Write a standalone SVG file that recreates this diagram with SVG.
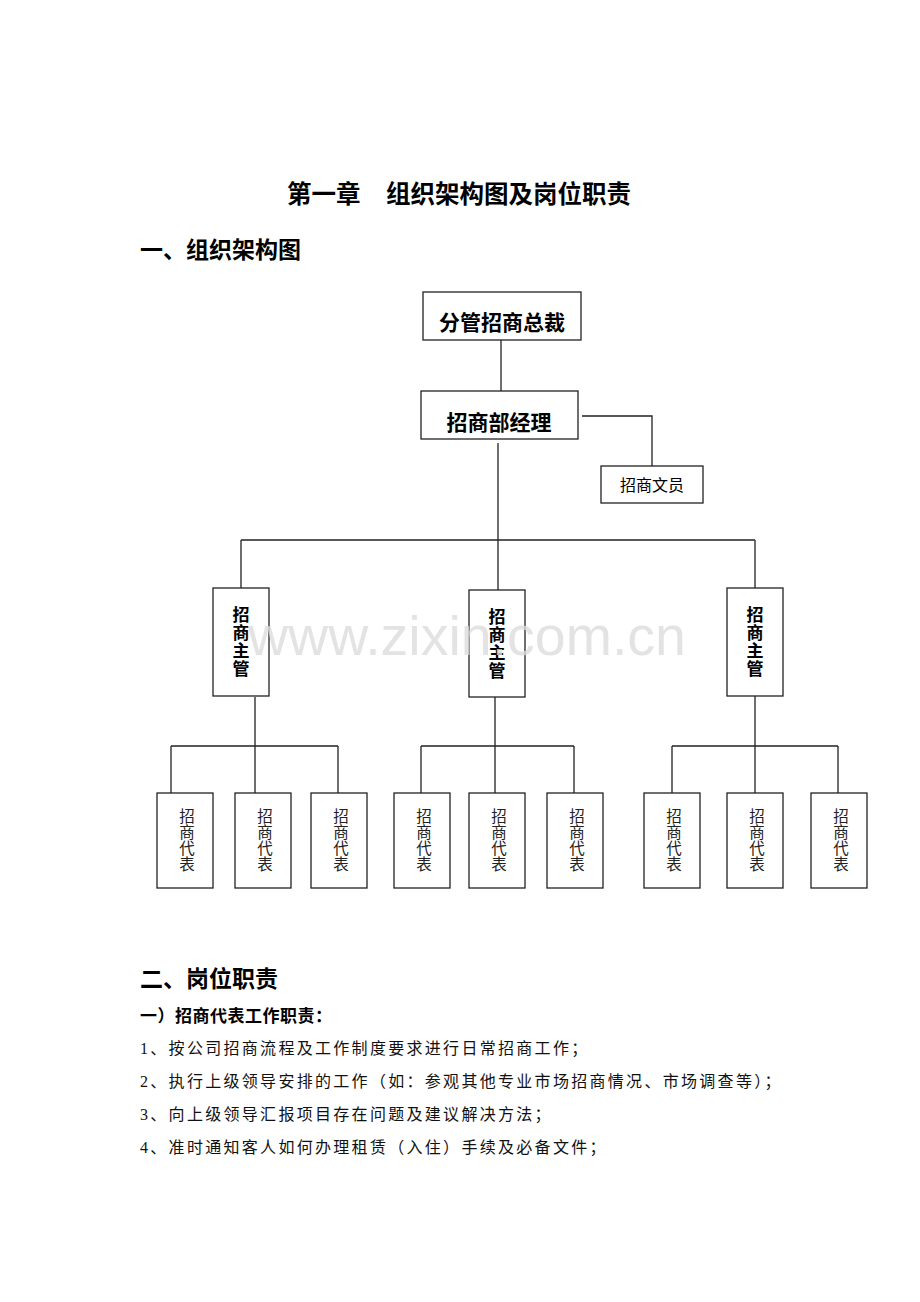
<svg xmlns="http://www.w3.org/2000/svg" width="920" height="1302" viewBox="0 0 920 1302">
<style>
.bx{fill:#fff;stroke:#222;stroke-width:1.3}
.ln{fill:none;stroke:#222;stroke-width:1.3}
.h{font-family:"Liberation Sans","Noto Sans CJK SC",sans-serif;font-weight:bold;fill:#000}
.b{font-family:"Liberation Serif","Noto Sans CJK SC",serif;font-size:16px;letter-spacing:2.3px;fill:#111}
.nt{font-family:"Liberation Sans","Noto Sans CJK SC",sans-serif;fill:#000;text-anchor:middle}
.vt{font-size:17px;font-weight:bold}
.rt{font-size:15.5px;fill:#222}
.wm{font-family:"Liberation Sans",Arial,sans-serif;font-size:55.5px;fill:#dcdcdc;fill-opacity:0.8}
</style>
<rect width="920" height="1302" fill="#fff"/>
<text class="h" x="287" y="203" font-size="24.5">第一章<tspan x="386">组织架构图及岗位职责</tspan></text>
<text class="h" x="140" y="258" font-size="23">一、组织架构图</text>

<g id="connectors">
<path class="ln" d="M501,340V391"/>
<path class="ln" d="M582,416H652V466"/>
<path class="ln" d="M498,443V540M241,540H755M241,540V588M498,540V590M755,540V588"/>
<path class="ln" d="M255,697V746M171,746H338M171,746V793M255,746V793M338,746V793"/>
<path class="ln" d="M495,697V746M421,746H574M421,746V793M495,746V793M574,746V793"/>
<path class="ln" d="M755,696V746M672,746H838M672,746V793M755,746V793M838,746V793"/>
</g>

<g id="n-president"><rect class="bx" x="423" y="292" width="158" height="48"/><text class="nt" x="502" y="330" font-size="21" font-weight="600">分管招商总裁</text></g>
<g id="n-manager"><rect class="bx" x="421" y="391" width="157" height="48"/><text class="nt" x="499" y="430" font-size="21" font-weight="600">招商部经理</text></g>
<g id="n-clerk"><rect class="bx" x="601" y="466" width="102" height="37"/><text class="nt" x="652" y="491" font-size="16">招商文员</text></g>

<g id="n-sup1"><rect class="bx" x="213" y="588" width="56" height="108"/><text class="nt vt" x="241" y="621">招<tspan x="241" dy="18">商</tspan><tspan x="241" dy="18">主</tspan><tspan x="241" dy="18">管</tspan></text></g>
<g id="n-sup2"><rect class="bx" x="469" y="590" width="56" height="107"/><text class="nt vt" x="497" y="623">招<tspan x="497" dy="18">商</tspan><tspan x="497" dy="18">主</tspan><tspan x="497" dy="18">管</tspan></text></g>
<g id="n-sup3"><rect class="bx" x="727" y="588" width="56" height="108"/><text class="nt vt" x="755" y="621">招<tspan x="755" dy="18">商</tspan><tspan x="755" dy="18">主</tspan><tspan x="755" dy="18">管</tspan></text></g>

<g id="n-rep1"><rect class="bx" x="157" y="793" width="56" height="95"/><text class="nt rt" x="187" y="822">招<tspan x="187" dy="16">商</tspan><tspan x="187" dy="16">代</tspan><tspan x="187" dy="16">表</tspan></text></g>
<g id="n-rep2"><rect class="bx" x="235" y="793" width="56" height="95"/><text class="nt rt" x="265" y="822">招<tspan x="265" dy="16">商</tspan><tspan x="265" dy="16">代</tspan><tspan x="265" dy="16">表</tspan></text></g>
<g id="n-rep3"><rect class="bx" x="311" y="793" width="56" height="95"/><text class="nt rt" x="341" y="822">招<tspan x="341" dy="16">商</tspan><tspan x="341" dy="16">代</tspan><tspan x="341" dy="16">表</tspan></text></g>
<g id="n-rep4"><rect class="bx" x="394" y="793" width="56" height="95"/><text class="nt rt" x="424" y="822">招<tspan x="424" dy="16">商</tspan><tspan x="424" dy="16">代</tspan><tspan x="424" dy="16">表</tspan></text></g>
<g id="n-rep5"><rect class="bx" x="469" y="793" width="56" height="95"/><text class="nt rt" x="499" y="822">招<tspan x="499" dy="16">商</tspan><tspan x="499" dy="16">代</tspan><tspan x="499" dy="16">表</tspan></text></g>
<g id="n-rep6"><rect class="bx" x="547" y="793" width="56" height="95"/><text class="nt rt" x="577" y="822">招<tspan x="577" dy="16">商</tspan><tspan x="577" dy="16">代</tspan><tspan x="577" dy="16">表</tspan></text></g>
<g id="n-rep7"><rect class="bx" x="644" y="793" width="56" height="95"/><text class="nt rt" x="674" y="822">招<tspan x="674" dy="16">商</tspan><tspan x="674" dy="16">代</tspan><tspan x="674" dy="16">表</tspan></text></g>
<g id="n-rep8"><rect class="bx" x="727" y="793" width="56" height="95"/><text class="nt rt" x="757" y="822">招<tspan x="757" dy="16">商</tspan><tspan x="757" dy="16">代</tspan><tspan x="757" dy="16">表</tspan></text></g>
<g id="n-rep9"><rect class="bx" x="811" y="793" width="56" height="95"/><text class="nt rt" x="841" y="822">招<tspan x="841" dy="16">商</tspan><tspan x="841" dy="16">代</tspan><tspan x="841" dy="16">表</tspan></text></g>

<text class="h" x="140" y="987" font-size="23">二、岗位职责</text>
<text class="h" x="140" y="1022" font-size="17" letter-spacing="0.5">一）招商代表工作职责：</text>
<text class="b" x="140" y="1054">1、按公司招商流程及工作制度要求进行日常招商工作；</text>
<text class="b" x="140" y="1087">2、执行上级领导安排的工作（如：参观其他专业市场招商情况、市场调查等）；</text>
<text class="b" x="140" y="1120">3、向上级领导汇报项目存在问题及建议解决方法；</text>
<text class="b" x="140" y="1153">4、准时通知客人如何办理租赁（入住）手续及必备文件；</text>

<text class="wm" x="248" y="655">www.zixin.com.cn</text>
</svg>
